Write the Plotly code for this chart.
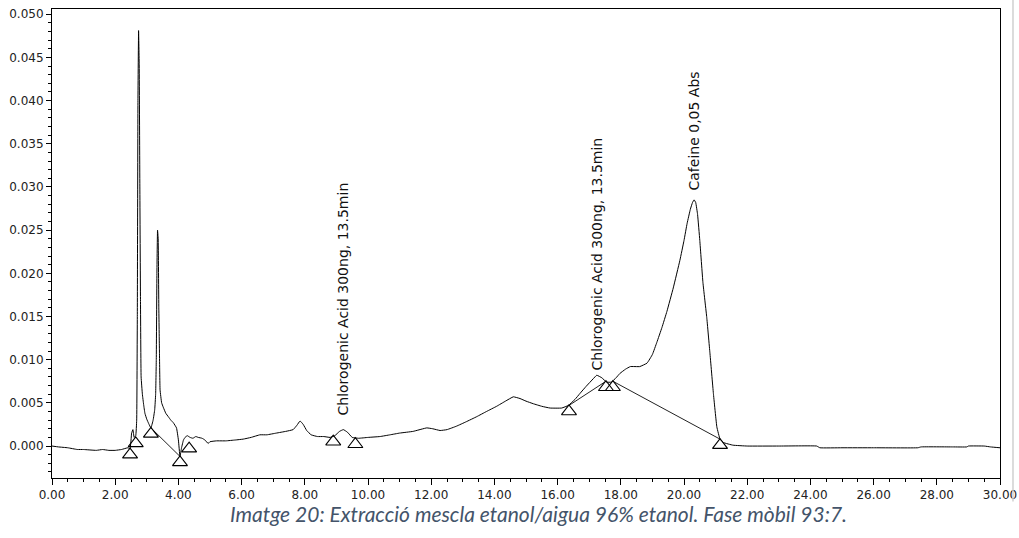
import plotly.graph_objects as go

# Chromatogram trace (retention time in min, absorbance)
time_min = [0.00, 0.20, 0.50, 0.80, 1.00, 1.40, 1.60, 1.80, 2.00, 2.20, 2.40, 2.47,
            2.52, 2.56, 2.60, 2.65, 2.68, 2.70, 2.72, 2.74, 2.76, 2.78, 2.80, 2.82,
            2.86, 2.90, 2.94, 3.00, 3.06, 3.13, 3.20, 3.25, 3.28, 3.30, 3.32, 3.34,
            3.36, 3.38, 3.40, 3.42, 3.47, 3.52, 3.60, 3.68, 3.76, 3.84, 3.94, 4.00,
            4.05, 4.10, 4.16, 4.21, 4.28, 4.37, 4.46, 4.55, 4.63, 4.75, 4.84, 4.94,
            5.00, 5.20, 5.50, 5.80, 6.05, 6.30, 6.58, 6.80, 7.10, 7.40, 7.63, 7.75,
            7.85, 7.95, 8.06, 8.20, 8.40, 8.60, 8.80, 8.95, 9.10, 9.22, 9.35, 9.50,
            9.70, 10.00, 10.38, 10.70, 11.00, 11.43, 11.86, 12.05, 12.28, 12.50, 12.80,
            13.10, 13.44, 13.75, 14.07, 14.35, 14.60, 14.81, 15.00, 15.23, 15.50,
            15.76, 16.13, 16.34, 16.55, 16.71, 16.90, 17.13, 17.24, 17.40, 17.55,
            17.70, 17.85, 17.97, 18.15, 18.30, 18.60, 18.83, 19.00, 19.14, 19.30,
            19.46, 19.66, 19.87, 20.00, 20.10, 20.20, 20.27, 20.32, 20.37, 20.43,
            20.50, 20.60, 20.72, 20.82, 20.93, 21.04, 21.14, 21.25, 21.55, 22.00,
            23.00, 24.20, 24.30, 25.00, 26.00, 27.40, 27.50, 28.50, 28.95, 29.00,
            29.50, 29.70, 30.00]
absorbance = [0.0000, -0.0001, -0.0002, -0.0004, -0.0004, -0.0005, -0.0004, -0.0005, -0.0005, -0.0004, -0.0002, -0.0003,
              0.0015, 0.0019, 0.0010, 0.0012, 0.0030, 0.0150, 0.0400, 0.0481, 0.0440, 0.0300, 0.0170, 0.0080,
              0.0060, 0.0048, 0.0038, 0.0031, 0.0026, 0.0021, 0.0030, 0.0042, 0.0060, 0.0100, 0.0200, 0.0250,
              0.0240, 0.0160, 0.0110, 0.0065, 0.0050, 0.0045, 0.0038, 0.0034, 0.0030, 0.0027, 0.0021, 0.0007,
              -0.0012, -0.0002, 0.0007, 0.0010, 0.0012, 0.0010, 0.0009, 0.0011, 0.0010, 0.0009, 0.0007, 0.0003,
              0.0005, 0.0006, 0.0006, 0.0007, 0.0008, 0.0010, 0.0013, 0.0013, 0.0015, 0.0017, 0.0019, 0.0024,
              0.0029, 0.0025, 0.0018, 0.0013, 0.0011, 0.0011, 0.0010, 0.0012, 0.0017, 0.0019, 0.0016, 0.0010,
              0.0009, 0.0010, 0.0011, 0.0013, 0.0015, 0.0017, 0.0021, 0.0020, 0.0018, 0.0019, 0.0023,
              0.0028, 0.0034, 0.0040, 0.0046, 0.0052, 0.0057, 0.0055, 0.0052, 0.0049, 0.0046,
              0.0044, 0.0044, 0.0047, 0.0054, 0.0061, 0.0069, 0.0078, 0.0082, 0.0079, 0.0074,
              0.0074, 0.0079, 0.0084, 0.0089, 0.0092, 0.0092, 0.0096, 0.0106, 0.0120, 0.0137,
              0.0156, 0.0183, 0.0215, 0.0238, 0.0258, 0.0274, 0.0282, 0.0285, 0.0282, 0.0268,
              0.0238, 0.0189, 0.0149, 0.0108, 0.0061, 0.0022, 0.0008, 0.0004, 0.0001, 0.0000,
              0.0000, 0.0000, -0.0002, -0.0002, -0.0002, -0.0002, -0.0001, -0.0001, -0.0001, 0.0000,
              0.0000, -0.0001, -0.0002]

# Integration markers (peak start/end points)
marker_t = [2.47, 2.65, 3.13, 4.05, 4.34, 8.90, 9.60, 16.36, 17.53, 17.75, 21.14]
marker_v = [-0.0003, 0.0010, 0.0021, -0.0012, 0.0004, 0.0012, 0.0009, 0.0047, 0.0075, 0.0075, 0.0008]
# Baselines drawn between marker pairs (indices into the marker lists)
baseline_pairs = [(2, 3), (7, 8), (9, 10)]

# Peak labels
label_t = [9.22, 17.24, 20.32]
label_v = [0.0019, 0.0082, 0.0285]
label_text = ["Chlorogenic Acid 300ng, 13.5min", "Chlorogenic Acid 300ng, 13.5min", "Cafeine 0,05 Abs"]
label_shift = [12, 3, 7]

x_ticks = [0, 2, 4, 6, 8, 10, 12, 14, 16, 18, 20, 22, 24, 26, 28, 30]
y_ticks = [0.000, 0.005, 0.010, 0.015, 0.020, 0.025, 0.030, 0.035, 0.040, 0.045, 0.050]

caption = "Imatge 20: Extracció mescla etanol/aigua 96% etanol. Fase mòbil 93:7."

fig = go.Figure()

bx, by = [], []
for a, b in baseline_pairs:
    bx += [marker_t[a], marker_t[b], None]
    by += [marker_v[a], marker_v[b], None]
fig.add_trace(go.Scatter(x=bx, y=by, mode="lines",
                         line=dict(color="#222222", width=1), hoverinfo="skip"))

fig.add_trace(go.Scatter(x=time_min, y=absorbance, mode="lines", line_shape="spline",
                         line=dict(color="#000000", width=1, smoothing=0.3)))

fig.add_trace(go.Scatter(x=marker_t, y=marker_v, mode="markers",
                         marker=dict(symbol="triangle-up-open", size=13, standoff=6,
                                     color="#000000", line=dict(width=1.1, color="#000000"))))

for t, v, txt, s in zip(label_t, label_v, label_text, label_shift):
    fig.add_annotation(x=t, y=v, text=txt, showarrow=False, textangle=-90,
                       xanchor="center", yanchor="bottom", yshift=s,
                       font=dict(family="DejaVu Sans", size=14, color="#111111"))

fig.add_annotation(xref="paper", yref="paper", x=0.5127, y=0, yshift=-35,
                   xanchor="center", yanchor="middle", showarrow=False,
                   text="<i>" + caption + "</i>",
                   font=dict(family="Lato", size=21, color="#44546A"))

fig.add_shape(type="line", xref="paper", yref="paper",
              x0=1.0137, x1=1.0137, y0=-0.05, y1=1.02,
              line=dict(color="#d0d0d0", width=1.5))

axis_font = dict(family="DejaVu Sans", size=12, color="#222222")
fig.update_xaxes(range=[0, 30], tickvals=x_ticks, tickformat=".2f", automargin=False,
                 ticks="outside", ticklen=6, tickcolor="#000", tickwidth=1,
                 minor=dict(dtick=0.5, ticks="outside", ticklen=3, tickcolor="#000"),
                 showline=True, linecolor="#000", linewidth=1, mirror=True,
                 showgrid=False, zeroline=False, tickfont=axis_font)
fig.update_yaxes(range=[-0.0037, 0.0506], tickvals=y_ticks, tickformat=".3f", automargin=False,
                 ticks="outside", ticklen=5, tickcolor="#000", tickwidth=1,
                 minor=dict(dtick=0.001, ticks="outside", ticklen=3, tickcolor="#000"),
                 showline=True, linecolor="#000", linewidth=1, mirror=True,
                 showgrid=False, zeroline=False, tickfont=axis_font)

fig.update_layout(width=1019, height=538, showlegend=False,
                  margin=dict(l=52, r=19, t=9, b=60),
                  paper_bgcolor="white", plot_bgcolor="white")

fig.write_html("out.html")
